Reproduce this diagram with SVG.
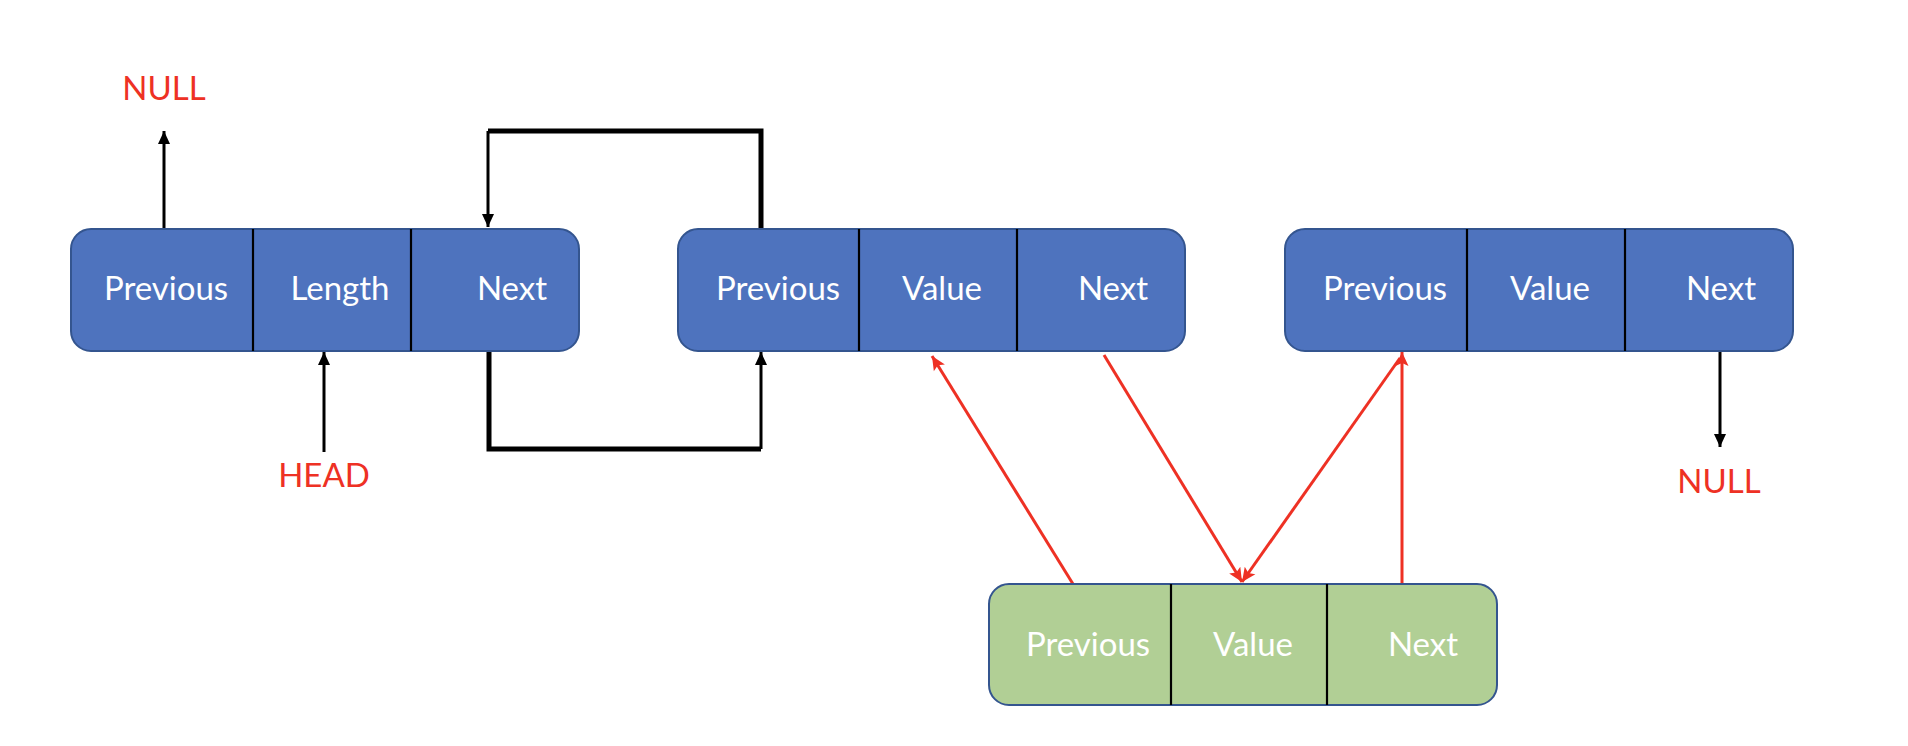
<svg xmlns="http://www.w3.org/2000/svg" width="1908" height="746" viewBox="0 0 1908 746">
<style>
.blue{fill:#4E73BE;stroke:#34558F;stroke-width:2}
.green{fill:#B1CF95;stroke:#34558F;stroke-width:2}
.div{stroke:#000;stroke-width:2.2}
.lbl{font-family:Lato,"Liberation Sans",sans-serif;font-size:33px;fill:#fff;text-anchor:middle}
.red{font-family:Lato,"Liberation Sans",sans-serif;font-size:33px;fill:#EE3124;text-anchor:middle}
.blk{stroke:#000;stroke-width:3;fill:none}
.thick{stroke:#000;stroke-width:5;fill:none;stroke-linejoin:miter}
.rl{stroke:#EE3124;stroke-width:3;fill:none}
</style>
<defs>
<marker id="ab" markerUnits="userSpaceOnUse" markerWidth="14" markerHeight="14" refX="13" refY="7" orient="auto" viewBox="0 0 14 14"><path d="M0,1 L13,7 L0,13 z" fill="#000"/></marker>
<marker id="ar" markerUnits="userSpaceOnUse" markerWidth="16" markerHeight="16" refX="14" refY="8" orient="auto" viewBox="0 0 16 16"><path d="M0,1.5 L14,8 L0,14.5 L3,8 z" fill="#EE3124"/></marker>
</defs>
<rect width="1908" height="746" fill="#fff"/>
<g id="connectors">
<path class="blk" d="M164,228 V131" marker-end="url(#ab)"/>
<path class="blk" d="M324,452 V352" marker-end="url(#ab)"/>
<path class="thick" d="M761,229 V131 H488"/>
<path class="blk" d="M488,131 V227" marker-end="url(#ab)"/>
<path class="thick" d="M489,351 V449 H761"/>
<path class="blk" d="M761,449 V352" marker-end="url(#ab)"/>
<path class="blk" d="M1720,351 V447" marker-end="url(#ab)"/>
<path class="rl" d="M1073,584 L932,356" marker-end="url(#ar)"/>
<path class="rl" d="M1104,355 L1242,582" marker-end="url(#ar)"/>
<path class="rl" d="M1400,358 L1242,582" marker-end="url(#ar)"/>
<path class="rl" d="M1402,584 V352" marker-end="url(#ar)"/>
</g>
<g id="null-top"><text class="red" x="164" y="100">NULL</text></g>
<g id="head"><text class="red" x="324" y="487">HEAD</text></g>
<g id="null-right"><text class="red" x="1719" y="493">NULL</text></g>
<g id="header-node">
<rect class="blue" x="71" y="229" width="508" height="122" rx="20"/>
<line class="div" x1="253" y1="229" x2="253" y2="351"/>
<line class="div" x1="411" y1="229" x2="411" y2="351"/>
<text class="lbl" x="166" y="300">Previous</text>
<text class="lbl" x="340" y="300">Length</text>
<text class="lbl" x="512" y="300">Next</text>
</g>
<g id="node-a">
<rect class="blue" x="678" y="229" width="507" height="122" rx="20"/>
<line class="div" x1="859" y1="229" x2="859" y2="351"/>
<line class="div" x1="1017" y1="229" x2="1017" y2="351"/>
<text class="lbl" x="778" y="300">Previous</text>
<text class="lbl" x="942" y="300">Value</text>
<text class="lbl" x="1113" y="300">Next</text>
</g>
<g id="node-b">
<rect class="blue" x="1285" y="229" width="508" height="122" rx="20"/>
<line class="div" x1="1467" y1="229" x2="1467" y2="351"/>
<line class="div" x1="1625" y1="229" x2="1625" y2="351"/>
<text class="lbl" x="1385" y="300">Previous</text>
<text class="lbl" x="1550" y="300">Value</text>
<text class="lbl" x="1721" y="300">Next</text>
</g>
<g id="new-node">
<rect class="green" x="989" y="584" width="508" height="121" rx="20"/>
<line class="div" x1="1171" y1="584" x2="1171" y2="705"/>
<line class="div" x1="1327" y1="584" x2="1327" y2="705"/>
<text class="lbl" x="1088" y="656">Previous</text>
<text class="lbl" x="1253" y="656">Value</text>
<text class="lbl" x="1423" y="656">Next</text>
</g>
</svg>
